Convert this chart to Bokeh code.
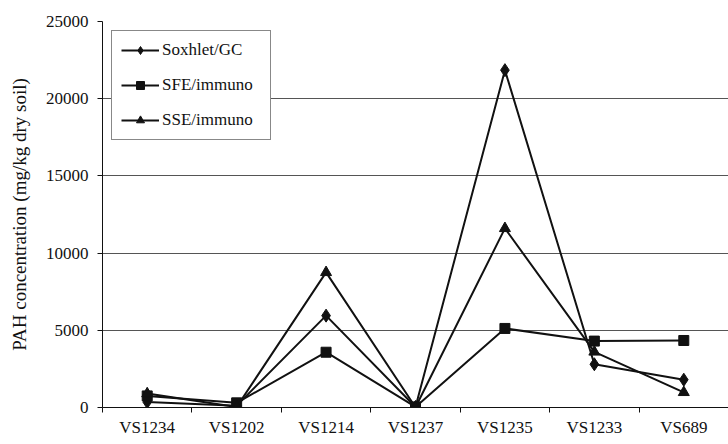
from bokeh.plotting import figure
from bokeh.models import Range1d, FixedTicker, Legend, LegendItem, ColumnDataSource
from bokeh.embed import file_html
from bokeh.resources import INLINE

# ---- data ----
sites = ["VS1234", "VS1202", "VS1214", "VS1237", "VS1235", "VS1233", "VS689"]
soxhlet_gc = [350, 120, 5950, 30, 21850, 2800, 1800]
sfe_immuno = [750, 300, 3580, 40, 5120, 4300, 4340]
sse_immuno = [900, 30, 8750, 20, 11600, 3600, 980]
y_ticks = [0, 5000, 10000, 15000, 20000, 25000]

FONT = "Liberation Serif"
INK = "#111111"

x_centers = [i + 0.5 for i in range(len(sites))]
x_bounds = list(range(len(sites) + 1))

p = figure(width=728, height=444, output_backend="svg", toolbar_location=None,
           x_range=Range1d(0, len(sites)), y_range=Range1d(0, 25000),
           min_border_left=102, min_border_right=0, min_border_top=21, min_border_bottom=37)
p.outline_line_color = None
p.background_fill_color = "white"
p.border_fill_color = "white"

# grid
p.xgrid.grid_line_color = None
p.ygrid.ticker = FixedTicker(ticks=y_ticks)
p.ygrid.grid_line_color = "#555555"
p.ygrid.grid_line_width = 1

# x axis
xa = p.xaxis[0]
xa.ticker = FixedTicker(ticks=x_centers, minor_ticks=x_bounds)
xa.major_label_overrides = {c: s for c, s in zip(x_centers, sites)}
xa.major_tick_out = 0
xa.major_tick_in = 0
xa.minor_tick_out = 5
xa.minor_tick_in = 0
xa.minor_tick_line_color = INK
xa.axis_line_color = INK
xa.major_label_text_font = FONT
xa.major_label_text_font_size = "17px"
xa.major_label_text_color = INK
xa.major_label_standoff = 5

# y axis
ya = p.yaxis[0]
ya.ticker = FixedTicker(ticks=y_ticks)
ya.major_tick_out = 5
ya.major_tick_in = 0
ya.minor_tick_line_color = None
ya.axis_line_color = INK
ya.major_tick_line_color = INK
ya.major_label_text_font = FONT
ya.major_label_text_font_size = "17px"
ya.major_label_text_color = INK
ya.major_label_standoff = 9
ya.axis_label = "PAH concentration (mg/kg dry soil)"
ya.axis_label_text_font = FONT
ya.axis_label_text_font_size = "19px"
ya.axis_label_text_font_style = "normal"
ya.axis_label_text_color = INK
ya.axis_label_standoff = 13
ya.formatter.use_scientific = False

src = ColumnDataSource(dict(x=x_centers, sox=soxhlet_gc, sfe=sfe_immuno, sse=sse_immuno))

l1 = p.line("x", "sox", source=src, line_color=INK, line_width=2)
m1 = p.scatter("x", "sox", source=src, marker="diamond", size=13, fill_color=INK, line_color=INK)
l2 = p.line("x", "sfe", source=src, line_color=INK, line_width=2)
m2 = p.scatter("x", "sfe", source=src, marker="square", size=10, fill_color=INK, line_color=INK)
l3 = p.line("x", "sse", source=src, line_color=INK, line_width=2)
m3 = p.scatter("x", "sse", source=src, marker="triangle", size=11, fill_color=INK, line_color=INK)

legend = Legend(items=[
    LegendItem(label="Soxhlet/GC", renderers=[l1, m1]),
    LegendItem(label="SFE/immuno", renderers=[l2, m2]),
    LegendItem(label="SSE/immuno", renderers=[l3, m3]),
], location="top_left")
legend.margin = 9
legend.padding = 9
legend.spacing = 15
legend.label_height = 20
legend.glyph_height = 20
legend.glyph_width = 38
legend.label_standoff = 3
legend.label_width = 99
legend.label_text_font = FONT
legend.label_text_font_size = "17px"
legend.label_text_color = INK
legend.border_line_color = INK
legend.border_line_width = 1
legend.background_fill_color = "white"
legend.background_fill_alpha = 1
p.add_layout(legend, "center")

open("out.html", "w").write(file_html(p, INLINE))
